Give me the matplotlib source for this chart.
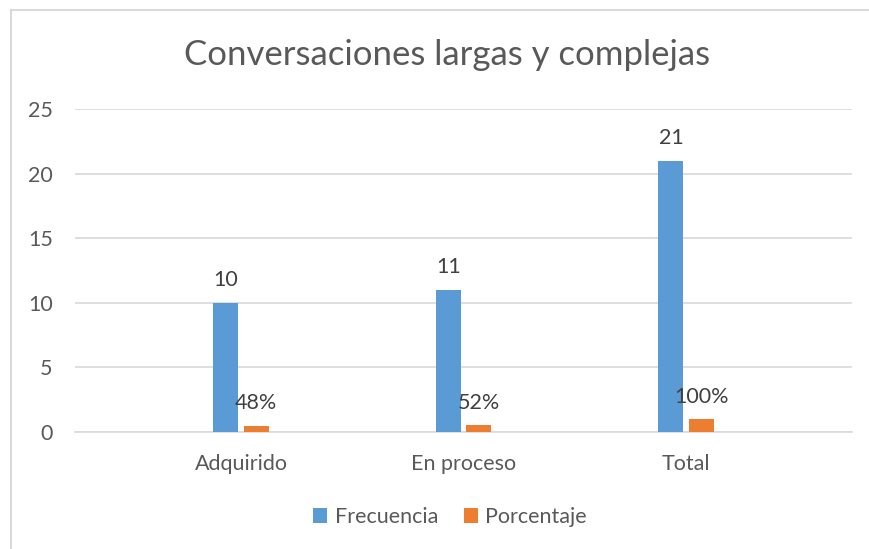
import matplotlib
matplotlib.use("Agg")
import matplotlib.pyplot as plt
from matplotlib.lines import Line2D
import numpy as np

categories = ["Adquirido", "En proceso", "Total"]
frecuencia = [10, 11, 21]
porcentaje = [0.48, 0.52, 1.00]
porcentaje_labels = ["48%", "52%", "100%"]
yticks = [0, 5, 10, 15, 20, 25]

plt.rcParams['font.family'] = ['Lato', 'DejaVu Sans']
text_color = "#595959"
blue = "#5B9BD5"
orange = "#ED7D31"

W, H = 869, 549
fig = plt.figure(figsize=(W/100, H/100), dpi=100)
ax = fig.add_axes([75/W, 1-432/H, (852-75)/W, (432-109)/H])

x = np.arange(len(categories))
bw = 0.112
off = 0.068
b1 = ax.bar(x - off, frecuencia, bw, color=blue, label="Frecuencia", zorder=3)
b2 = ax.bar(x + off, porcentaje, bw, color=orange, label="Porcentaje", zorder=3)

for xi, v in zip(x, frecuencia):
    ax.annotate(str(v), (xi - off, v), xytext=(0, 9), textcoords="offset points",
                ha="center", va="bottom", fontsize=15.5, color="#404040")
for xi, v, lab in zip(x, porcentaje, porcentaje_labels):
    ax.annotate(lab, (xi + off, v), xytext=(0, 9), textcoords="offset points",
                ha="center", va="bottom", fontsize=15.5, color="#404040")

ax.set_ylim(0, 25)
ax.set_xlim(-0.746, 2.746)
ax.set_yticks(yticks)
ax.set_xticks(x)
ax.set_xticklabels(categories)
ax.tick_params(axis="both", length=0, labelsize=15.5, labelcolor=text_color)
ax.tick_params(axis="y", pad=16)
ax.tick_params(axis="x", pad=16)
ax.yaxis.grid(True, color="#D9D9D9", linewidth=1.2, zorder=0)
for s in ["top", "right", "left"]:
    ax.spines[s].set_visible(False)
ax.spines["bottom"].set_color("#D9D9D9")
ax.spines["bottom"].set_linewidth(1.2)

fig.text(447/W, 1-55/H, "Conversaciones largas y complejas", ha="center", va="center",
         fontsize=25, color=text_color)

leg = fig.legend(handles=[b1, b2], labels=["Frecuencia", "Porcentaje"], loc="center",
                 bbox_to_anchor=(450/W, 1-517/H), ncol=2, frameon=False, fontsize=15.5,
                 handlelength=0.65, handleheight=0.65, handletextpad=0.35, columnspacing=1.2,
                 labelcolor=text_color)

fig.add_artist(Line2D([11/W, 1], [1-10/H, 1-10/H], color="#D9D9D9", linewidth=1.5))
fig.add_artist(Line2D([11/W, 11/W], [0, 1-10/H], color="#D9D9D9", linewidth=1.5))

fig.savefig("out.png", dpi=100)
